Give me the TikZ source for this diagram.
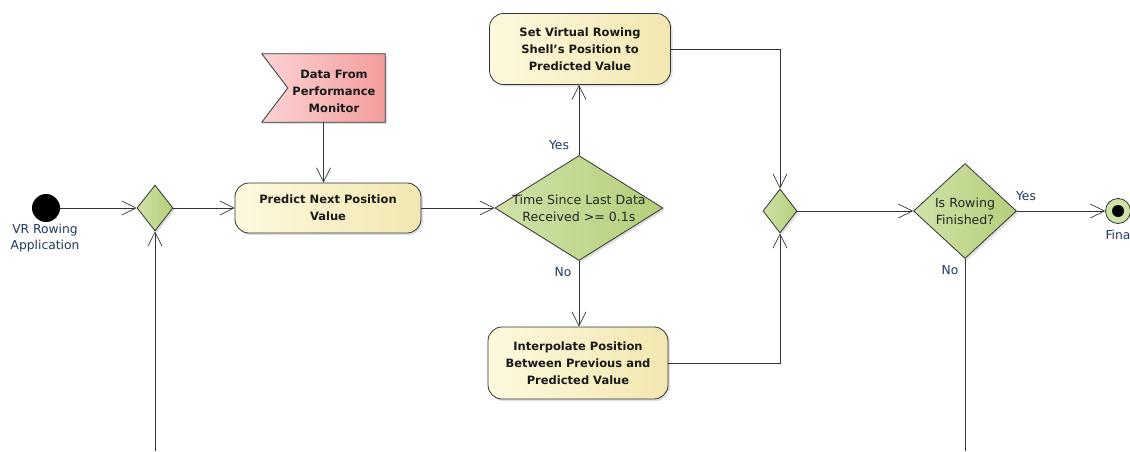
\documentclass[tikz,border=0pt]{standalone}
\usepackage{fontspec}
\setmainfont{DejaVu Sans}
\usetikzlibrary{arrows.meta,shapes.geometric,shadows}
\definecolor{lineC}{HTML}{333333}
\definecolor{navy}{HTML}{1F3864}
\definecolor{boxL}{HTML}{FDF9DE}
\definecolor{boxR}{HTML}{F2E7B0}
\definecolor{grnL}{HTML}{CFE2A8}
\definecolor{grnR}{HTML}{B3CF7A}
\definecolor{pinkL}{HTML}{FDD3D3}
\definecolor{pinkR}{HTML}{F39C9C}
\tikzset{
  flow/.style={draw=lineC, line width=0.8pt, -{Straight Barb[length=14pt,width=14pt,line width=0.7pt]}},
  plain/.style={draw=lineC, line width=0.8pt},
  btext/.style={align=center, font=\bfseries\fontsize{11.5}{17}\selectfont, text=black!90, inner sep=0pt},
  actbox/.style={btext, draw=lineC, line width=0.8pt, rounded corners=14pt, left color=boxL, right color=boxR,
    drop shadow={opacity=0.25, shadow xshift=2pt, shadow yshift=-2pt}},
  dia/.style={draw=lineC, line width=0.8pt, shape=diamond, inner sep=0pt, left color=grnL, right color=grnR,
    drop shadow={opacity=0.25, shadow xshift=2pt, shadow yshift=-2pt}},
  ctext/.style={align=center, font=\fontsize{12.6}{17}\selectfont, text=black!85},
  guard/.style={font=\fontsize{12.3}{14}\selectfont, text=navy},
}
\begin{document}
\begin{tikzpicture}[x=1pt,y=-1pt]
\useasboundingbox (0,0) rectangle (1130,451);
\clip (0,0) rectangle (1130,451);
\fill[white] (0,0) rectangle (1130,451);

% initial node
\node[circle, fill=black, minimum size=28pt, inner sep=0pt] (init) at (46,208) {};
\node[guard, align=center, font=\fontsize{12.3}{16}\selectfont] (initlbl) at (45,238) {VR Rowing\\Application};

% merge 1
\node[dia, minimum width=36pt, minimum height=46pt] (m1) at (155,208) {};
\coordinate (m1in) at (155,451);

% predict
\node[actbox, minimum width=186pt, minimum height=50pt] (pred) at (328,208) {Predict Next Position\\Value};

% data flag
\node[minimum width=123pt, minimum height=68pt, inner sep=0pt] (data) at (323.5,88) {};
\path[draw=lineC, line width=0.8pt, left color=pinkL, right color=pinkR,
  drop shadow={opacity=0.25, shadow xshift=2pt, shadow yshift=-2pt}]
  (data.north west) -- (data.north east) -- (data.south east) -- (data.south west) -- ([xshift=26pt]data.west) -- cycle;
\node[btext] (datatxt) at (334,91) {Data From\\Performance\\Monitor};

% decision 1
\node[dia, minimum width=168pt, minimum height=105pt,
  label={[ctext]center:Time Since Last Data\\Received >= 0.1s}] (d1) at (579,208) {};

% set box
\node[actbox, minimum width=181pt, minimum height=71pt] (set) at (580,49) {Set Virtual Rowing\\Shell's Position to\\Predicted Value};

% interpolate box
\node[actbox, minimum width=180pt, minimum height=72pt] (interp) at (578,363) {Interpolate Position\\Between Previous and\\Predicted Value};

% merge 2
\node[dia, minimum width=34pt, minimum height=44pt] (m2) at (780,211) {};

% decision 2
\node[dia, minimum width=103pt, minimum height=95pt,
  label={[ctext]center:Is Rowing\\Finished?}] (d2) at (965,211) {};
\coordinate (d2out) at (965,451);

% final node
\node[circle, draw=lineC, line width=0.8pt, fill=grnL, minimum size=25pt, inner sep=0pt] (fin) at (1118,211) {};
\node[circle, fill=black, minimum size=12pt, inner sep=0pt] (findot) at (fin.center) {};
\node[guard, anchor=west] (finlbl) at (1102,235) {Final};

% connectors
\draw[flow] (init) -- (m1.west);
\draw[flow] (m1in) -- (m1.south);
\draw[flow] (m1.east) -- (pred.west);
\draw[flow] (data.south) -- (data.south |- pred.north);
\draw[flow] (pred.east) -- (d1.west);
\draw[flow] (d1.north) -- (set.south -| d1.north);
\draw[flow] (d1.south) -- (interp.north -| d1.south);
\draw[flow] (set.east) -| (m2.north);
\draw[flow] (interp.east) -| (m2.south);
\draw[flow] (m2.east) -- (d2.west);
\draw[flow] (d2.east) -- (fin.west);
\draw[plain] (d2.south) -- (d2out);

% guards
\node[guard] (y1) at (559,145) {Yes};
\node[guard] (n1) at (563,272) {No};
\node[guard] (y2) at (1026,196) {Yes};
\node[guard] (n2) at (950,270) {No};
\end{tikzpicture}
\end{document}
